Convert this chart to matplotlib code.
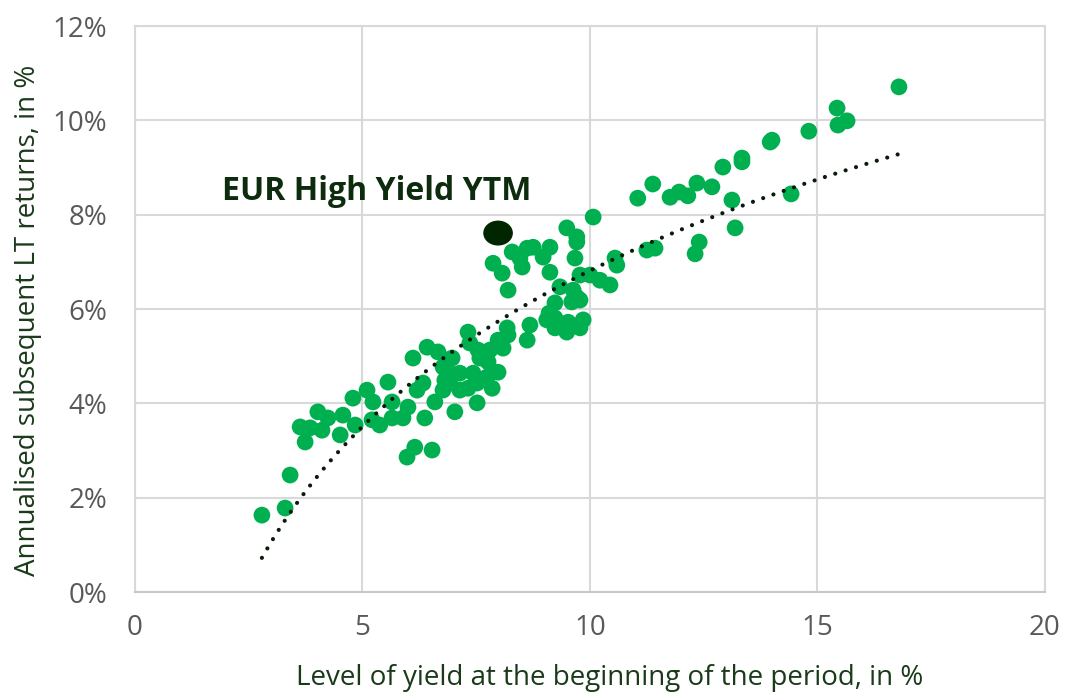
import numpy as np
import matplotlib.pyplot as plt
from matplotlib.patches import Ellipse
from matplotlib.ticker import FuncFormatter

plt.rcParams['font.family'] = ['Open Sans', 'DejaVu Sans']

# starting yield (%) and annualised subsequent return (%)
yield_start = [
    2.79, 3.30, 3.41, 3.63, 3.74, 3.85, 4.02, 4.11, 4.24, 4.51, 4.57, 4.79, 4.84,
    5.10, 5.23, 5.21, 5.38, 5.56, 5.65, 5.65, 5.89, 6.00, 6.11, 6.20, 6.33, 6.37,
    6.42, 6.59, 6.66, 6.77, 6.88, 7.03, 5.98, 6.15, 6.53, 6.77, 6.92, 6.97, 6.92,
    7.14, 7.32, 7.52, 7.74, 7.85, 7.98, 7.52, 7.32, 7.36, 7.54, 7.58, 7.80, 7.98,
    8.18, 8.20, 8.09, 7.14, 7.43, 7.76, 6.81,
    8.62, 8.68, 9.05, 9.23, 9.49, 9.52, 9.78, 9.85, 9.23, 9.60, 9.78, 9.10, 9.34,
    9.23, 9.34, 9.63, 9.71, 9.78, 10.00, 10.22, 10.44, 10.55, 10.59, 8.20, 7.87,
    8.07, 9.12, 8.29, 8.46, 8.51, 8.62, 8.75, 8.97, 9.12, 9.49, 9.71, 9.71, 9.67,
    10.07, 11.25, 11.43, 11.05, 11.38, 11.76, 11.96, 12.15, 12.35, 12.68, 13.12,
    13.19, 12.40, 12.31, 12.92, 13.34, 13.34, 13.96, 14.00, 14.81, 15.43, 15.45,
    15.65, 16.79, 14.42,
]
lt_return = [
    1.63, 1.78, 2.48, 3.50, 3.18, 3.48, 3.82, 3.43, 3.69, 3.33, 3.75, 4.11, 3.54,
    4.28, 4.03, 3.65, 3.54, 4.45, 4.03, 3.69, 3.69, 3.92, 4.96, 4.28, 4.43, 3.69,
    5.19, 4.03, 5.09, 4.28, 4.92, 3.82, 2.86, 3.07, 3.01, 4.77, 4.64, 4.96, 4.43,
    4.28, 4.32, 4.43, 4.56, 4.32, 4.66, 4.01, 5.51, 5.28, 5.13, 4.96, 5.13, 5.34,
    5.60, 5.45, 5.17, 4.64, 4.64, 4.88, 4.49,
    5.34, 5.66, 5.77, 5.60, 5.51, 5.72, 5.60, 5.77, 6.13, 6.15, 6.19, 5.91, 5.62,
    5.81, 6.47, 6.40, 6.25, 6.72, 6.72, 6.61, 6.51, 7.08, 6.93, 6.40, 6.97,
    6.76, 6.78, 7.21, 7.08, 6.89, 7.29, 7.31, 7.10, 7.31, 7.72, 7.53, 7.42, 7.08,
    7.95, 7.25, 7.29, 8.35, 8.65, 8.37, 8.48, 8.40, 8.67, 8.59, 8.31,
    7.72, 7.42, 7.17, 9.01, 9.20, 9.12, 9.54, 9.58, 9.77, 10.26, 9.90,
    9.99, 10.71, 8.44,
]

# current EUR High Yield yield-to-maturity marker
ytm_x = 7.98
ytm_y = 7.61
ytm_label = "EUR High Yield YTM"

# logarithmic trendline y = a*ln(x) + b, as shown on the chart
trend_a = 4.77
trend_b = -4.17

x = np.array(yield_start)
y = np.array(lt_return)
xt = np.linspace(x.min(), x.max(), 200)
yt = trend_a * np.log(xt) + trend_b

fig = plt.figure(figsize=(10.66, 6.92), dpi=100)
ax = fig.add_axes([0.1266, 0.1445, 0.8537, 0.8179])

grid_c = "#d9d9d9"
ax.scatter(x, y, s=145, color="#00b050", edgecolors="none", zorder=3)
ax.plot(xt, yt, color="#0b1a0b", lw=3.0, linestyle=(0, (0.01, 2.6)),
        dash_capstyle="round", zorder=4)

ax.add_patch(Ellipse((ytm_x, ytm_y), 0.62, 0.5, color="#002600", zorder=5))
ax.text(5.32, 8.5, ytm_label, fontsize=23, fontweight="bold", color="#0d2b0d",
        ha="center", va="center", zorder=6)

ax.set_xlim(0, 20)
ax.set_ylim(0, 12)
ax.set_xticks([0, 5, 10, 15, 20])
ax.set_yticks(np.arange(0, 13, 2))
ax.yaxis.set_major_formatter(FuncFormatter(lambda v, p: f"{v:.0f}%"))
ax.grid(True, color=grid_c, lw=1.5, zorder=0)
ax.set_axisbelow(True)
for s in ax.spines.values():
    s.set_color(grid_c)
    s.set_linewidth(1.5)
ax.spines["bottom"].set_color("#c8c8c8")
ax.tick_params(length=0, labelsize=20, labelcolor="#595959")
ax.tick_params(axis="y", pad=20)
ax.tick_params(axis="x", pad=16)

ax.set_xlabel("Level of yield at the beginning of the period, in %", fontsize=20,
              color="#1a3a1a")
ax.set_ylabel("Annualised subsequent LT returns, in %", fontsize=20,
              color="#1a3a1a")
ax.xaxis.set_label_coords(0.522, -0.127)
ax.yaxis.set_label_coords(-0.102, 0.48)

fig.savefig("out.png", dpi=100)
